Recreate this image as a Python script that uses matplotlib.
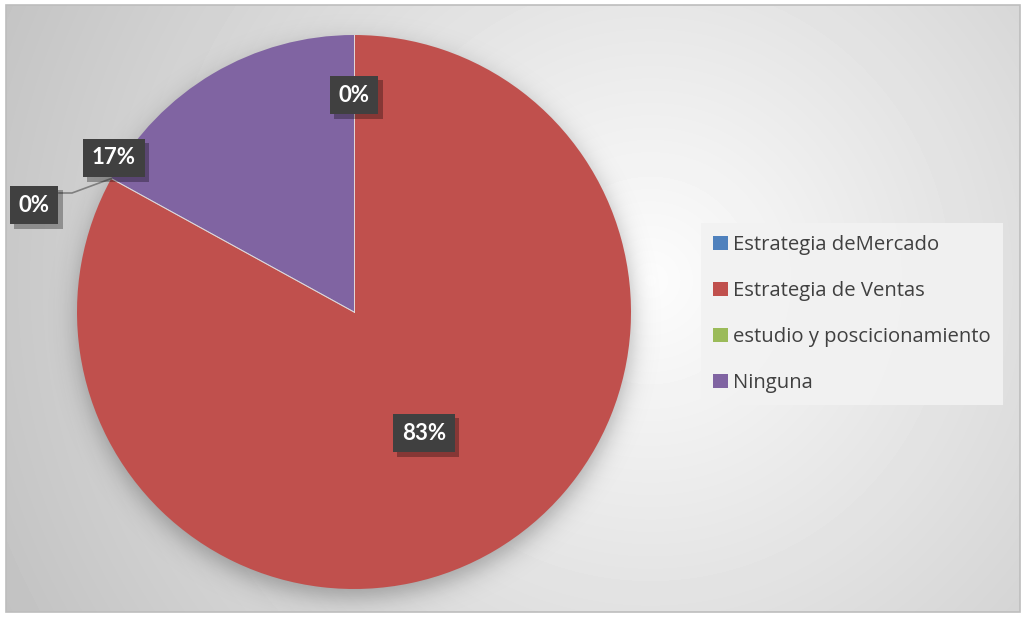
import matplotlib.pyplot as plt
import matplotlib.patheffects as pe
from matplotlib.patches import Rectangle
import numpy as np

categories = ['Estrategia deMercado', 'Estrategia de Ventas',
              'estudio y poscicionamiento', 'Ninguna']
percentages = [0, 83, 0, 17]
colors = ['#4F81BD', '#C0504D', '#9BBB59', '#8064A2']

W, H = 1026, 617
plt.rcParams['font.family'] = ['Open Sans', 'DejaVu Sans']

fig = plt.figure(figsize=(W / 100, H / 100), dpi=100)
ax = fig.add_axes([0, 0, 1, 1])

# chart area in pixel units (top-left origin), converted when drawn
x0, x1, y0, y1 = 6, 1020, 5, 612
cx, cy, r = 354, 312, 277

# radial grey background
gx, gy = np.meshgrid(np.arange(x0, x1), np.arange(y0, y1))
d = np.hypot(gx - 650, gy - 280)
shade = 0.99 - 0.23 * d / d.max()
ax.imshow(shade, cmap='gray', vmin=0, vmax=1, extent=(x0, x1, H - y1, H - y0),
          origin='upper', interpolation='bilinear', zorder=0)

# soft shadow under the pie
ds = np.hypot(gx - cx, gy - (cy + 8))
shadow = np.zeros(gx.shape + (4,))
shadow[..., 3] = 0.28 * 0.5 * (1 - np.tanh((ds - r) / 14))
ax.imshow(shadow, extent=(x0, x1, H - y1, H - y0), origin='upper',
          interpolation='bilinear', zorder=1)

ax.add_patch(Rectangle((x0, H - y1), x1 - x0, y1 - y0, fill=False,
                       edgecolor='#bdbdbd', linewidth=1.2, zorder=2))

wedges, _ = ax.pie(percentages, colors=colors, startangle=90, counterclock=False,
                   center=(cx, H - cy), radius=r,
                   wedgeprops=dict(linewidth=0, zorder=3))

# thin light separators between slices
for w in wedges:
    a = np.deg2rad(w.theta1)
    ax.plot([cx, cx + r * np.cos(a)], [H - cy, H - cy + r * np.sin(a)],
            color='#e6e6e6', lw=0.7, alpha=0.7, zorder=4)

# data labels
label_pos = [(354, 95), (424, 433), (34, 205), (114, 158)]
for pct, (lx, ly) in zip(percentages, label_pos):
    t = ax.text(lx, H - ly, f'{pct}%', ha='center', va='center', color='white',
                fontsize=16, fontweight='bold', family=['Lato', 'DejaVu Sans'],
                zorder=6,
                bbox=dict(boxstyle='square,pad=0.4', facecolor='#404040',
                          linewidth=0))
    t.get_bbox_patch().set_path_effects([
        pe.SimplePatchShadow(offset=(3, -3), shadow_rgbFace='black', alpha=0.3),
        pe.Normal()])

# leader line for the zero slice outside the pie
ang = np.deg2rad(wedges[2].theta1)
ex, ey = cx + r * np.cos(ang), (H - cy) + r * np.sin(ang)
ax.plot([59, 72, ex], [H - 193, H - 193, ey], color='#7f7f7f', lw=1.2, zorder=5)

leg = ax.legend(wedges, categories, loc='upper left',
                bbox_to_anchor=(701 / W, 1 - 223 / H), borderaxespad=0,
                fontsize=14.6, labelcolor='#404040', frameon=True, fancybox=False,
                facecolor='#f2f2f2', edgecolor='none', framealpha=0.9,
                handlelength=0.72, handleheight=0.72, handletextpad=0.25,
                labelspacing=1.28, borderpad=0.6)
leg.set_zorder(7)

ax.set_xlim(0, W)
ax.set_ylim(0, H)
ax.axis('off')

fig.savefig('out.png', dpi=100)
